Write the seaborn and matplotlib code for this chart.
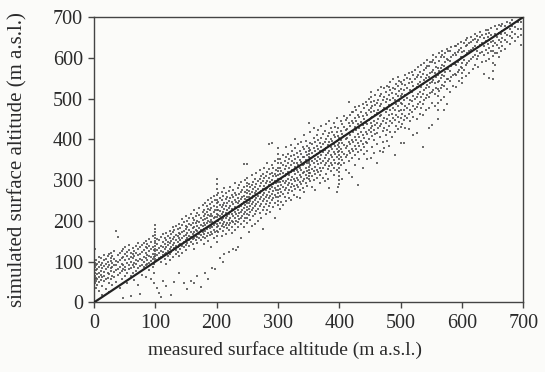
import matplotlib
matplotlib.use("Agg")
import matplotlib.pyplot as plt
import pandas as pd
import seaborn as sns

# measured altitude columns (x) and simulated altitudes read in each column (y)
X_0_100 = [1, 3, 5, 8, 11, 13, 16, 19, 22, 24, 27, 30, 33, 36, 39, 42, 45, 48, 51, 54,
           57, 60, 63, 66, 69, 72, 75, 78, 81, 84, 87, 90, 93, 96, 98, 100]
Y_0_100 = [
    [48, 57, 66, 73, 88, 97, 131], [36, 52, 61, 79, 92, 104], [44, 58, 69, 83, 95],
    [27, 49, 63, 71, 86, 99, 112], [55, 68, 77, 91, 108], [18, 41, 62, 84, 96],
    [52, 66, 74, 89, 103, 116], [33, 58, 81, 94, 107], [61, 72, 87, 99, 113],
    [25, 47, 69, 92, 118], [57, 78, 84, 101, 109, 122], [43, 66, 88, 96, 114],
    [62, 74, 91, 106, 127], [51, 79, 93, 102, 176], [68, 82, 98, 117, 161],
    [36, 71, 86, 104, 121], [58, 77, 95, 109, 126], [12, 83, 92, 111, 131],
    [64, 79, 88, 103, 118, 136], [47, 72, 97, 114, 124], [81, 93, 106, 129, 142],
    [16, 66, 84, 99, 112, 121], [72, 91, 108, 118, 134], [55, 87, 96, 113, 127],
    [78, 94, 104, 122, 139], [43, 84, 101, 116, 131, 147], [21, 89, 107, 119, 136],
    [68, 93, 103, 124, 141], [86, 98, 112, 128, 146], [62, 91, 109, 121, 137, 151],
    [95, 104, 117, 133, 144], [79, 97, 114, 126, 139, 156], [58, 101, 112, 131, 148],
    [88, 106, 119, 137, 163], [47, 72, 94, 111, 129],
    [101, 107, 113, 119, 126, 132, 138, 145, 151, 158, 166, 173, 181, 189],
]

X_100_200 = [103, 106, 109, 113, 116, 118, 121, 124, 126, 129, 131, 134, 137, 138, 141,
             144, 147, 150, 152, 155, 158, 161, 163, 166, 168, 171, 174, 177, 179, 181,
             184, 186, 189, 191, 193, 196, 197, 200]
Y_100_200 = [
    [36, 104, 117, 128, 143, 156], [22, 109, 121, 134, 152], [14, 98, 112, 126, 139, 161],
    [52, 116, 123, 137, 148, 168], [107, 119, 131, 144, 157], [41, 94, 122, 135, 153, 171],
    [113, 127, 141, 149, 163], [103, 118, 132, 146, 158, 176], [18, 124, 137, 151, 167],
    [111, 128, 142, 156, 173, 184], [49, 133, 146, 161, 178], [119, 129, 139, 153, 166, 187],
    [124, 136, 149, 162, 179], [72, 115, 141, 158, 171, 193], [132, 144, 152, 168, 182],
    [121, 139, 157, 174, 191, 204], [47, 136, 148, 163, 176, 197],
    [129, 141, 153, 166, 179, 188, 211], [33, 146, 158, 171, 184, 199],
    [138, 152, 163, 177, 192, 206], [52, 149, 161, 174, 189, 217],
    [143, 156, 169, 183, 196, 208], [48, 131, 158, 172, 186, 203, 226],
    [152, 164, 178, 194, 211], [64, 147, 161, 175, 188, 199, 219],
    [158, 169, 183, 197, 214, 231], [38, 152, 166, 178, 191, 206],
    [161, 173, 187, 202, 221, 238], [144, 168, 181, 196, 212, 227],
    [71, 159, 176, 189, 204, 218, 243], [164, 179, 194, 208, 223, 236],
    [58, 151, 171, 186, 199, 214, 229, 251], [166, 182, 197, 211, 226, 241],
    [137, 174, 188, 203, 217, 232, 256], [84, 169, 184, 198, 213, 246],
    [158, 177, 191, 206, 221, 237, 262], [81, 172, 194, 209, 228, 251],
    [148, 163, 176, 184, 192, 201, 209, 218, 226, 234, 243, 252, 263, 278, 291, 304],
]

X_200_300 = [203, 205, 208, 210, 212, 215, 217, 220, 222, 225, 227, 230, 232, 235, 237,
             240, 242, 245, 247, 250, 253, 255, 258, 260, 263, 265, 268, 270, 272, 275,
             277, 280, 282, 285, 287, 290, 292, 295, 297, 300]
Y_200_300 = [
    [172, 187, 199, 214, 228, 246, 268], [108, 181, 196, 211, 224, 239, 257],
    [163, 188, 203, 217, 233, 251, 272], [99, 176, 192, 206, 221, 238, 262],
    [118, 184, 198, 213, 229, 244, 281], [169, 191, 207, 219, 236, 254, 268],
    [183, 196, 211, 226, 243, 259], [124, 177, 189, 203, 218, 232, 249, 273],
    [194, 208, 222, 237, 256, 284], [171, 186, 201, 216, 229, 246, 263],
    [131, 197, 213, 226, 241, 258, 277], [178, 192, 207, 221, 234, 251, 269, 292],
    [129, 201, 216, 231, 247, 264], [136, 186, 198, 212, 227, 243, 256, 281],
    [204, 219, 233, 249, 266, 288], [159, 192, 208, 222, 237, 253, 271, 296],
    [213, 227, 241, 259, 276], [184, 199, 217, 231, 246, 262, 283, 339],
    [206, 223, 238, 254, 271, 301],
    [196, 208, 217, 226, 234, 243, 251, 259, 268, 276, 285, 294, 306, 339],
    [174, 214, 229, 244, 258, 274, 291], [203, 221, 236, 249, 266, 283],
    [188, 226, 241, 256, 272, 289, 312], [211, 231, 246, 261, 278, 296],
    [193, 218, 236, 252, 268, 284, 304], [224, 241, 257, 273, 291, 318],
    [201, 229, 247, 262, 279, 297], [219, 236, 253, 268, 286, 304, 326],
    [208, 242, 258, 274, 293, 311], [179, 226, 248, 263, 279, 298, 316],
    [234, 253, 269, 286, 305, 331], [217, 241, 258, 276, 292, 309],
    [226, 249, 264, 281, 298, 319, 342], [237, 256, 272, 289, 306, 327, 389],
    [221, 244, 261, 279, 296, 314], [251, 266, 283, 301, 318, 336, 391],
    [233, 256, 273, 291, 309, 329], [206, 244, 263, 281, 297, 316, 347],
    [259, 276, 293, 311, 324],
    [238, 249, 259, 268, 277, 286, 295, 304, 313, 322, 331, 341, 352, 364, 378],
]

X_300_400 = [303, 305, 308, 311, 313, 316, 318, 321, 323, 326, 328, 331, 333, 336, 338,
             341, 343, 346, 348, 351, 353, 356, 358, 361, 363, 366, 368, 371, 373, 376,
             378, 381, 383, 386, 388, 391, 393, 396, 398, 400]
Y_300_400 = [
    [229, 262, 279, 296, 314, 331, 352], [247, 271, 288, 304, 322, 343],
    [239, 266, 283, 299, 317, 336, 361], [258, 276, 293, 311, 328, 348],
    [249, 281, 297, 316, 334, 356, 381], [268, 287, 303, 321, 341, 364],
    [256, 277, 294, 312, 329, 351], [251, 284, 301, 319, 337, 359, 386],
    [273, 291, 308, 326, 346, 372], [263, 286, 304, 323, 342, 361],
    [279, 297, 314, 332, 353, 378, 402], [259, 289, 306, 325, 343, 366],
    [283, 301, 319, 337, 357, 388], [256, 276, 296, 313, 331, 349, 371],
    [291, 308, 326, 344, 364, 393], [281, 299, 317, 336, 356, 381],
    [271, 304, 321, 339, 358, 376, 411], [294, 312, 331, 349, 369, 396],
    [286, 306, 323, 343, 362, 384],
    [304, 311, 318, 326, 333, 341, 348, 356, 363, 371, 378, 441],
    [297, 317, 336, 354, 373, 392, 418], [282, 309, 328, 347, 366, 388],
    [301, 322, 341, 359, 379, 403, 428], [276, 314, 333, 352, 371, 394],
    [306, 326, 346, 364, 384, 411], [319, 339, 357, 376, 398, 423],
    [294, 312, 331, 351, 372, 391], [323, 343, 362, 381, 404, 432],
    [306, 329, 348, 368, 388, 413], [298, 336, 354, 373, 394, 421],
    [316, 341, 361, 379, 401, 437], [304, 328, 348, 367, 387, 408],
    [281, 334, 353, 372, 393, 416, 446], [322, 342, 361, 381, 402, 427],
    [337, 356, 376, 397, 419], [313, 331, 349, 369, 389, 412, 439],
    [343, 363, 384, 406, 431], [272, 326, 357, 377, 396, 418, 452],
    [284, 339, 368, 387, 409, 429],
    [291, 301, 311, 321, 331, 341, 351, 361, 371, 381, 391, 404],
]

X_400_500 = [403, 405, 408, 411, 413, 416, 418, 421, 423, 426, 428, 431, 433, 436, 438,
             441, 443, 446, 448, 451, 453, 456, 458, 461, 463, 466, 468, 471, 473, 476,
             478, 481, 483, 486, 488, 491, 493, 496, 498, 500]
Y_400_500 = [
    [336, 357, 377, 398, 421, 446], [302, 349, 369, 391, 413, 437],
    [343, 364, 386, 408, 431, 458], [326, 356, 379, 401, 423, 447],
    [361, 383, 404, 426, 452], [318, 347, 371, 393, 416, 439, 491],
    [366, 388, 411, 434, 461], [308, 354, 376, 398, 421, 446, 468],
    [371, 393, 417, 441, 466], [338, 362, 384, 407, 431, 453, 479],
    [377, 399, 422, 446, 472], [287, 368, 391, 413, 437, 461],
    [352, 383, 406, 429, 454, 483], [374, 397, 419, 443, 468],
    [331, 389, 411, 435, 458, 487], [364, 382, 404, 427, 451, 476],
    [394, 417, 441, 464, 492], [351, 371, 391, 414, 437, 461, 484],
    [402, 424, 447, 471, 498], [354, 417, 429, 441, 453, 466, 478, 491, 504, 516],
    [381, 409, 433, 456, 481], [366, 398, 422, 446, 469, 494],
    [413, 436, 459, 484, 508], [341, 389, 416, 441, 465, 489],
    [427, 449, 473, 497, 521], [372, 406, 433, 457, 481, 507],
    [437, 461, 486, 511, 529], [369, 393, 421, 446, 471, 496],
    [378, 429, 453, 477, 503, 527], [412, 441, 466, 491, 516],
    [396, 424, 449, 474, 499, 532], [383, 434, 459, 484, 508, 528],
    [419, 446, 471, 496, 521, 541], [406, 439, 463, 488, 513],
    [452, 476, 501, 526, 547], [362, 418, 448, 473, 497, 523],
    [434, 461, 486, 511, 536], [426, 456, 481, 506, 531, 553],
    [443, 469, 494, 519, 543], [391, 431, 452, 471, 489, 507, 524, 541],
]

X_500_600 = [503, 505, 508, 511, 513, 516, 518, 521, 523, 526, 528, 531, 533, 536, 538,
             541, 543, 546, 548, 551, 553, 556, 558, 561, 563, 566, 568, 571, 573, 576,
             578, 581, 583, 586, 588, 591, 593, 596, 598, 600]
Y_500_600 = [
    [438, 463, 487, 512, 537], [392, 447, 471, 496, 521, 546],
    [429, 458, 483, 508, 533, 557], [453, 477, 501, 526, 551],
    [426, 463, 488, 513, 538, 562], [446, 472, 497, 522, 548],
    [468, 493, 517, 541, 566], [411, 456, 482, 507, 532, 557],
    [474, 499, 523, 548, 571], [416, 449, 479, 504, 529, 554],
    [486, 511, 535, 559, 578], [463, 491, 516, 541, 566],
    [477, 503, 528, 553, 583], [381, 459, 486, 511, 536, 561],
    [496, 521, 546, 571, 588], [471, 501, 526, 551, 576],
    [508, 533, 558, 581, 596], [427, 476, 504, 529, 554, 579],
    [513, 538, 563, 589], [436, 489, 516, 541, 566, 591],
    [521, 546, 571, 596, 607], [483, 512, 538, 563, 588],
    [527, 553, 578, 601], [451, 472, 489, 507, 524, 541, 558, 575],
    [518, 543, 568, 593, 612], [497, 526, 551, 576, 601],
    [534, 558, 583, 606, 618], [471, 503, 531, 556, 581, 603],
    [541, 566, 591, 613], [486, 523, 548, 573, 598, 621],
    [547, 572, 596, 616], [517, 543, 568, 593, 617],
    [554, 579, 603, 626], [531, 559, 584, 608],
    [561, 586, 611, 629], [528, 558, 583, 607, 628],
    [566, 591, 614, 634], [543, 571, 596, 619],
    [577, 601, 624, 638], [538, 551, 563, 576, 588, 601, 614],
]

X_600_700 = [603, 606, 609, 612, 615, 618, 621, 624, 627, 630, 633, 636, 639, 642, 645,
             648, 651, 654, 657, 660, 663, 666, 670, 674, 678, 682, 687, 692, 697]
Y_600_700 = [
    [571, 596, 617, 636], [556, 583, 606, 628, 645], [588, 611, 631, 648],
    [563, 593, 616, 637], [597, 619, 639, 651], [572, 601, 624, 643],
    [583, 608, 629, 647, 658], [597, 617, 638, 654], [578, 604, 626, 645],
    [611, 632, 651, 663], [589, 614, 636, 655], [561, 606, 628, 648],
    [593, 619, 641, 659, 668], [611, 633, 652, 669], [551, 598, 624, 644, 661],
    [617, 638, 657, 673], [549, 568, 587, 604, 617, 629, 641],
    [583, 611, 636, 658, 677], [612, 631, 651, 671], [601, 623, 643, 662, 681],
    [617, 638, 659, 679], [629, 648, 666, 684], [621, 643, 662, 677],
    [639, 657, 674, 688], [633, 654, 671, 686], [648, 663, 679, 693],
    [641, 659, 676], [652, 671, 689], [631, 656, 672, 688],
]

# 1:1 line
LINE_X = [0, 700]
LINE_Y = [0, 700]

TICKS = [0, 100, 200, 300, 400, 500, 600, 700]


def build_table() -> pd.DataFrame:
    rows = []
    segments = [(X_0_100, Y_0_100), (X_100_200, Y_100_200), (X_200_300, Y_200_300),
                (X_300_400, Y_300_400), (X_400_500, Y_400_500), (X_500_600, Y_500_600),
                (X_600_700, Y_600_700)]
    for xs, ys in segments:
        for x, col in zip(xs, ys):
            for y in col:
                rows.append({"measured": x, "simulated": y})
    return pd.DataFrame(rows)


def main() -> None:
    sns.set_style("ticks")
    plt.rcParams["font.family"] = ["Liberation Serif", "DejaVu Serif"]

    df = build_table()
    bg = "#fbfbf9"
    ink = "#2a2a2a"
    fig = plt.figure(figsize=(5.45, 3.72), dpi=100, facecolor=bg)
    ax = fig.add_axes([0.1725, 0.187, 0.7875, 0.767])
    ax.set_facecolor(bg)

    sns.scatterplot(data=df, x="measured", y="simulated", ax=ax, marker="s", s=1.6,
                    color="#4a4a4a", linewidth=0, alpha=0.8, zorder=2)
    sns.lineplot(x=LINE_X, y=LINE_Y, ax=ax, color="#222222", linewidth=1.6, zorder=3)

    ax.set_xlim(0, 700)
    ax.set_ylim(0, 700)
    ax.set_xticks(TICKS)
    ax.set_yticks(TICKS)
    ax.tick_params(axis="both", direction="out", length=4, width=1, color="#444444",
                   labelsize=14.5, labelcolor=ink, pad=4)
    for side in ["top", "right", "left", "bottom"]:
        ax.spines[side].set_visible(True)
        ax.spines[side].set_color("#444444")
        ax.spines[side].set_linewidth(1.0)

    ax.set_xlabel("measured surface altitude (m a.s.l.)", fontsize=14, color=ink)
    ax.set_ylabel("simulated surface altitude (m a.s.l.)", fontsize=15, color=ink)
    ax.xaxis.set_label_coords(0.445, -0.135)
    ax.yaxis.set_label_coords(-0.155, 0.5)

    fig.savefig("out.png", dpi=100, facecolor=bg)
    plt.close(fig)


if __name__ == "__main__":
    main()
